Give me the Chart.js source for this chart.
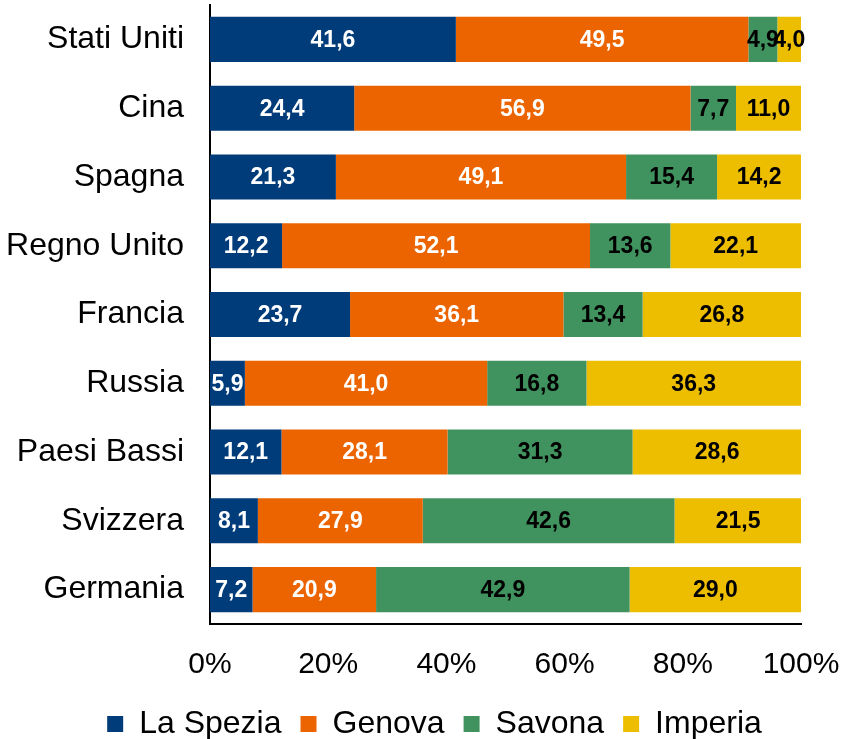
<!DOCTYPE html>
<html>
<head>
<meta charset="utf-8">
<script src="https://cdn.jsdelivr.net/npm/chart.js@4/dist/chart.umd.min.js"></script>
<style>
  html, body { margin: 0; padding: 0; background: #ffffff; }
  #wrap { width: 846px; height: 739px; overflow: hidden; }
</style>
</head>
<body>
<div id="wrap"><canvas id="c" width="846" height="739"></canvas></div>
<script>
const categories = ["Stati Uniti", "Cina", "Spagna", "Regno Unito", "Francia", "Russia", "Paesi Bassi", "Svizzera", "Germania"];
const seriesNames = ["La Spezia", "Genova", "Savona", "Imperia"];
const laSpezia = [41.6, 24.4, 21.3, 12.2, 23.7, 5.9, 12.1, 8.1, 7.2];
const genova   = [49.5, 56.9, 49.1, 52.1, 36.1, 41.0, 28.1, 27.9, 20.9];
const savona   = [4.9, 7.7, 15.4, 13.6, 13.4, 16.8, 31.3, 42.6, 42.9];
const imperia  = [4.0, 11.0, 14.2, 22.1, 26.8, 36.3, 28.6, 21.5, 29.0];
const xTicks = [0, 20, 40, 60, 80, 100];

const colors = ["#003B7A", "#EC6400", "#40925E", "#EDBE00"];
const labelColors = ["#ffffff", "#ffffff", "#000000", "#000000"];
const seriesData = [laSpezia, genova, savona, imperia];

const FONT = "'Liberation Sans', Arial, sans-serif";

const valueLabels = {
  id: 'valueLabels',
  afterDatasetsDraw(chart) {
    const ctx = chart.ctx;
    ctx.save();
    ctx.font = "bold 23px " + FONT;
    ctx.textAlign = 'center';
    ctx.textBaseline = 'middle';
    chart.data.datasets.forEach((ds, di) => {
      const meta = chart.getDatasetMeta(di);
      meta.data.forEach((bar, i) => {
        const v = ds.data[i];
        const cx = (bar.x + bar.base) / 2;
        ctx.fillStyle = labelColors[di];
        ctx.fillText(v.toFixed(1).replace('.', ','), cx, bar.y + 1);
      });
    });
    ctx.restore();
  }
};

// shift the legend block slightly to the right, as in the reference
const legendShift = {
  id: 'legendShift',
  afterLayout(chart) {
    if (chart.legend) {
      chart.legend.left += 34;
      chart.legend.right += 34;
    }
  }
};

new Chart(document.getElementById('c'), {
  type: 'bar',
  data: {
    labels: categories,
    datasets: seriesNames.map((n, i) => ({
      label: n,
      data: seriesData[i],
      backgroundColor: colors[i],
      borderWidth: 0,
      barPercentage: 0.655,
      categoryPercentage: 1.0
    }))
  },
  options: {
    indexAxis: 'y',
    responsive: false,
    animation: false,
    layout: { padding: { top: 5, right: 45, left: 0, bottom: -11 } },
    plugins: {
      legend: {
        position: 'bottom',
        labels: {
          font: { family: FONT, size: 32 },
          color: '#000000',
          boxWidth: 16,
          boxHeight: 16,
          padding: 19
        }
      },
      tooltip: { enabled: false }
    },
    scales: {
      x: {
        stacked: true,
        min: 0,
        max: 100,
        afterBuildTicks(axis) { axis.ticks = xTicks.map(v => ({ value: v })); },
        ticks: {
          callback: v => v + '%',
          font: { family: FONT, size: 30 },
          color: '#000000',
          padding: 23,
          maxRotation: 0
        },
        grid: { display: false, drawTicks: false },
        border: { display: true, color: '#000000', width: 2 },
        afterFit(axis) { axis.height = 65; axis.paddingLeft = 0; axis.paddingRight = 0; }
      },
      y: {
        stacked: true,
        ticks: {
          font: { family: FONT, size: 32 },
          color: '#000000',
          padding: 26
        },
        grid: { display: false, drawTicks: false },
        border: { display: true, color: '#000000', width: 2 },
        afterFit(axis) { axis.width = 210; axis.paddingTop = 0; axis.paddingBottom = 0; }
      }
    }
  },
  plugins: [valueLabels, legendShift]
});
</script>
</body>
</html>
